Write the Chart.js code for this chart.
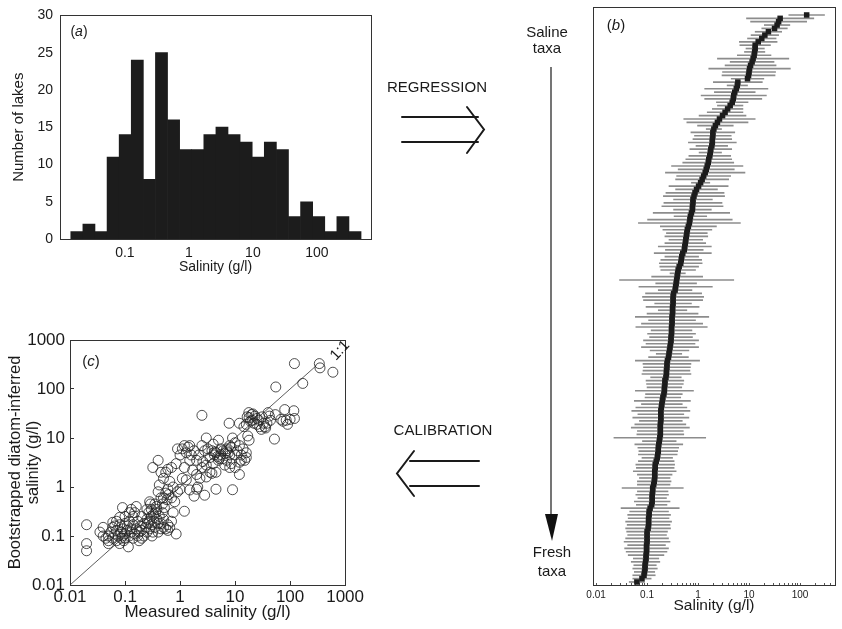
<!DOCTYPE html>
<html>
<head>
<meta charset="utf-8">
<script src="https://cdn.jsdelivr.net/npm/chart.js@4.4.1/dist/chart.umd.min.js"></script>
<style>
  body { margin: 0; background: #fff; width: 842px; height: 629px; position: relative; overflow: hidden;
         font-family: "Liberation Sans", Arial, sans-serif; color: #1a1a1a; }
  .box { position: absolute; }
  .txt { position: absolute; white-space: nowrap; transform: translateX(-50%); text-align: center; }
</style>
</head>
<body>
<div class="box" style="left:0;top:0;width:380px;height:280px"><canvas id="hist"></canvas></div>
<div class="box" style="left:560px;top:0;width:282px;height:629px"><canvas id="optima"></canvas></div>
<div class="box" style="left:0;top:320px;width:370px;height:309px"><canvas id="calib"></canvas></div>

<svg width="842" height="629" style="position:absolute;left:0;top:0">
  <g stroke="#1a1a1a" stroke-width="2" fill="none" stroke-linecap="round">
    <line x1="402" y1="117" x2="478" y2="117"/>
    <line x1="402" y1="142" x2="478" y2="142"/>
    <polyline points="467,107 484,129.5 467,153"/>
    <line x1="410" y1="461" x2="479" y2="461"/>
    <line x1="410" y1="486" x2="479" y2="486"/>
    <polyline points="414,451 397,473.5 414,496"/>
  </g>
  <line x1="551" y1="67" x2="551" y2="516" stroke="#1a1a1a" stroke-width="1.2"/>
  <polygon points="545,514 558,514 552,541" fill="#111"/>
</svg>

<div class="txt" style="left:437px;top:78px;font-size:15px">REGRESSION</div>
<div class="txt" style="left:443px;top:421px;font-size:15px">CALIBRATION</div>
<div class="txt" style="left:547px;top:24px;font-size:15px;line-height:16px">Saline<br>taxa</div>
<div class="txt" style="left:552px;top:542px;font-size:15px;line-height:19px">Fresh<br>taxa</div>
<div class="txt" style="left:79px;top:23px;font-size:14px">(<i>a</i>)</div>
<div class="txt" style="left:616px;top:16px;font-size:15px">(<i>b</i>)</div>
<div class="txt" style="left:91px;top:352px;font-size:15px">(<i>c</i>)</div>
<div class="txt" style="left:339px;top:341px;font-size:15px;transform:translateX(-50%) rotate(-47deg)">1:1</div>

<script>
// (a) histogram of lake salinity
const histCounts = [1, 2, 1, 11, 14, 24, 8, 25, 16, 12, 12, 14, 15, 14, 13, 11, 13, 12, 3, 5, 3, 1, 3, 1];
const histBinStart = 0.0143;   // lower edge of first bin, g/l
const histBinRatio = 1.545;    // each bin spans this factor

// (b) taxon optima and tolerances, top (saline) to bottom (fresh), log10 g/l
const taxonLogOptimum = [
  2.13, 1.61, 1.58, 1.55, 1.50, 1.38, 1.31, 1.25, 1.18, 1.12,
  1.12, 1.11, 1.10, 1.08, 1.06, 1.03, 1.01, 1.00, 0.99, 0.97,
  0.78, 0.77, 0.75, 0.72, 0.70, 0.69, 0.67, 0.63, 0.58, 0.53,
  0.48, 0.42, 0.38, 0.34, 0.31, 0.29, 0.29, 0.28, 0.28, 0.27,
  0.25, 0.24, 0.23, 0.21, 0.20, 0.18, 0.16, 0.14, 0.11, 0.08,
  0.05, 0.01, -0.03, -0.06, -0.08, -0.10, -0.10, -0.11, -0.11, -0.13,
  -0.15, -0.16, -0.17, -0.19, -0.21, -0.22, -0.23, -0.24, -0.25, -0.26,
  -0.27, -0.30, -0.32, -0.33, -0.34, -0.37, -0.39, -0.40, -0.41, -0.42,
  -0.43, -0.44, -0.45, -0.48, -0.49, -0.49, -0.49, -0.50, -0.50, -0.50,
  -0.51, -0.51, -0.51, -0.52, -0.52, -0.52, -0.53, -0.53, -0.54, -0.55,
  -0.56, -0.57, -0.58, -0.60, -0.61, -0.61, -0.62, -0.62, -0.63, -0.65,
  -0.65, -0.66, -0.66, -0.67, -0.69, -0.70, -0.71, -0.72, -0.73, -0.73,
  -0.73, -0.73, -0.74, -0.74, -0.74, -0.74, -0.75, -0.76, -0.77, -0.78,
  -0.78, -0.79, -0.80, -0.82, -0.84, -0.84, -0.85, -0.85, -0.85, -0.86,
  -0.87, -0.89, -0.89, -0.90, -0.90, -0.90, -0.91, -0.94, -0.96, -0.96,
  -0.97, -0.97, -0.97, -0.98, -1.00, -1.00, -1.00, -1.00, -1.01, -1.01,
  -1.01, -1.02, -1.02, -1.03, -1.04, -1.04, -1.05, -1.06, -1.10, -1.20
];
const taxonLogTolerance = [
  0.35, 0.66, 0.55, 0.25, 0.25, 0.26, 0.27, 0.28, 0.37, 0.30,
  0.18, 0.20, 0.33, 0.70, 0.43, 0.50, 0.80, 0.52, 0.52, 0.32,
  0.48, 0.20, 0.62, 0.40, 0.64, 0.56, 0.31, 0.25, 0.30, 0.35,
  0.46, 0.70, 0.60, 0.35, 0.15, 0.43, 0.36, 0.38, 0.47, 0.31,
  0.41, 0.22, 0.41, 0.45, 0.50, 0.70, 0.55, 0.78, 0.53, 0.52,
  0.18, 0.58, 0.41, 0.57, 0.60, 0.38, 0.57, 0.60, 0.37, 0.75,
  0.32, 0.83, 1.00, 0.55, 0.48, 0.40, 0.42, 0.33, 0.40, 0.52,
  0.37, 0.56, 0.33, 0.40, 0.42, 0.38, 0.34, 0.15, 0.50, 1.12,
  0.40, 0.72, 0.33, 0.55, 0.60, 0.58, 0.36, 0.52, 0.28, 0.50,
  0.72, 0.46, 0.60, 0.70, 0.40, 0.47, 0.42, 0.54, 0.48, 0.56,
  0.38, 0.25, 0.39, 0.63, 0.47, 0.46, 0.46, 0.48, 0.30, 0.37,
  0.36, 0.34, 0.57, 0.36, 0.35, 0.55, 0.40, 0.50, 0.57, 0.45,
  0.55, 0.42, 0.50, 0.57, 0.45, 0.46, 0.90, 0.33, 0.47, 0.40,
  0.38, 0.38, 0.30, 0.35, 0.38, 0.37, 0.42, 0.34, 0.30, 0.33,
  0.32, 0.60, 0.30, 0.32, 0.28, 0.35, 0.30, 0.57, 0.38, 0.42,
  0.40, 0.45, 0.42, 0.44, 0.40, 0.38, 0.42, 0.45, 0.37, 0.43,
  0.40, 0.35, 0.25, 0.28, 0.22, 0.24, 0.20, 0.22, 0.18, 0.15
];

// (c) measured vs bootstrapped diatom-inferred salinity, g/l
const measuredSalinity = [
  120, 340, 350, 600, 170, 55, 2.5,
  68, 74, 80, 85, 100, 117, 120, 90, 52, 42,
  44, 38, 35, 54, 31, 27, 25, 22, 20, 20.4,
  17.8, 16.6, 14.5, 18, 21, 23, 19, 33, 28, 30,
  36, 25, 16, 12, 7.8, 40,
  1.1, 1.2, 1.4, 1.3, 1.5, 1.6, 1.8, 2.0, 2.2, 2.5,
  2.8, 3.0, 3.2, 3.5, 3.8, 4.0, 4.2, 4.5, 4.8, 5.0,
  5.2, 5.5, 6.0, 6.5, 7.0, 7.5, 8.0, 8.5, 9.0, 10,
  11, 12, 13, 14, 15, 16, 17, 18, 16, 12,
  10, 8.5, 7, 6, 5, 4, 3.5, 3, 2.5, 2,
  1.7, 1.5, 1.2, 1.0, 0.9, 2.0, 2.1, 1.8, 2.8, 4.5,
  9, 12, 8, 6.5, 4.5, 3.8, 2.3, 1.3, 1.1, 1.0,
  1.5, 5.5, 7.0, 4.3, 8, 13, 10, 2.6, 3.0,
  0.32, 0.4, 0.42, 0.45, 0.5, 0.55, 0.6, 0.65, 0.7, 0.75,
  0.8, 0.85, 0.9, 0.5, 0.55, 0.6, 0.45, 0.4, 0.35, 0.38,
  0.48, 0.52, 0.58, 0.62, 0.7, 0.75, 0.7, 0.65, 0.6, 1.2,
  0.85, 0.6, 0.55, 0.5, 0.45, 0.28, 0.25,
  0.02, 0.02, 0.02, 0.04, 0.04, 0.05, 0.05, 0.05, 0.055, 0.06,
  0.06, 0.065, 0.07, 0.07, 0.075, 0.08, 0.08, 0.085, 0.09, 0.09,
  0.09, 0.095, 0.1, 0.1, 0.1, 0.11, 0.11, 0.115, 0.12, 0.12,
  0.125, 0.13, 0.13, 0.14, 0.14, 0.15, 0.15, 0.16, 0.17, 0.17,
  0.18, 0.19, 0.2, 0.2, 0.22, 0.22, 0.24, 0.25, 0.25, 0.27,
  0.28, 0.28, 0.3, 0.3, 0.3, 0.32, 0.33, 0.34, 0.35, 0.36,
  0.37, 0.38, 0.4, 0.4, 0.42, 0.45, 0.48, 0.5, 0.06, 0.07,
  0.08, 0.1, 0.12, 0.14, 0.16, 0.18, 0.2, 0.26, 0.29, 0.31,
  0.035, 0.045, 0.065, 0.085
];
const inferredSalinity = [
  330, 330, 270, 220, 130, 110, 29,
  24, 22, 38, 23, 24, 36, 25, 19, 9.5, 28,
  23, 20, 17, 30, 27, 23, 25, 20, 30, 23,
  33, 27, 17, 26, 31, 28, 22, 20, 17, 15,
  16, 19, 19, 20, 20, 33,
  6.0, 7.0, 6.5, 5.0, 7.0, 4.5, 5.5, 3.5, 4.5, 7.0,
  5.5, 10, 6.0, 4.0, 5.5, 7.5, 4.5, 5.0, 4.2, 9.0,
  3.8, 4.6, 5.5, 4.8, 6.0, 5.0, 4.5, 6.5, 10, 8.0,
  5.5, 7.0, 4.5, 6.0, 3.5, 5.0, 11, 9.0, 4.0, 3.2,
  2.5, 3.0, 3.5, 3.8, 3.5, 3.0, 2.0, 1.6, 2.5, 1.8,
  2.2, 3.5, 2.5, 4.5, 6.0, 0.9, 1.0, 0.65, 0.68, 0.9,
  0.88, 1.8, 2.5, 2.8, 2.0, 1.9, 1.5, 1.4, 1.5, 0.9,
  0.87, 6.0, 5.5, 5.2, 7, 3.5, 4.5, 3.3, 2.8,
  2.5, 3.5, 1.1, 2.0, 1.5, 2.0, 2.3, 1.3, 2.5, 1.0,
  0.5, 3.0, 0.8, 0.6, 0.75, 0.9, 0.6, 0.8, 0.45, 0.35,
  0.45, 0.38, 0.55, 0.7, 0.6, 0.3, 0.2, 0.15, 0.17, 0.32,
  0.11, 0.13, 0.14, 0.22, 0.18, 0.5, 0.35,
  0.17, 0.07, 0.05, 0.15, 0.1, 0.1, 0.08, 0.07, 0.12, 0.09,
  0.15, 0.11, 0.08, 0.13, 0.1, 0.07, 0.17, 0.12, 0.1, 0.14,
  0.38, 0.08, 0.11, 0.09, 0.25, 0.13, 0.16, 0.06, 0.1, 0.2,
  0.14, 0.35, 0.12, 0.09, 0.17, 0.11, 0.3, 0.14, 0.1, 0.2,
  0.12, 0.16, 0.13, 0.25, 0.18, 0.1, 0.15, 0.22, 0.12, 0.3,
  0.2, 0.14, 0.25, 0.35, 0.17, 0.12, 0.28, 0.2, 0.15, 0.3,
  0.4, 0.22, 0.12, 0.18, 0.25, 0.14, 0.3, 0.15, 0.19, 0.2,
  0.24, 0.18, 0.3, 0.25, 0.4, 0.08, 0.09, 0.18, 0.45, 0.1,
  0.12, 0.09, 0.16, 0.09
];
const oneToOne = [0.01, 300];

Chart.defaults.font.family = '"Liberation Sans", Arial, sans-serif';
Chart.defaults.color = '#1a1a1a';
Chart.defaults.animation = false;
Chart.defaults.plugins.legend.display = false;
Chart.defaults.plugins.tooltip.enabled = false;

// box round the plot area
const frame = {
  id: 'frame',
  afterDraw(chart) {
    const { ctx, chartArea: a } = chart;
    ctx.save();
    ctx.strokeStyle = '#333';
    ctx.lineWidth = 1;
    ctx.strokeRect(Math.round(a.left) + 0.5, Math.round(a.top) + 0.5, Math.round(a.width), Math.round(a.height));
    ctx.restore();
  }
};

const decadeTicks = (list) => (scale) => { scale.ticks = list.map(v => ({ value: v })); };
const label = v => String(v);

// (a)
new Chart(document.getElementById('hist'), {
  type: 'bar',
  data: {
    datasets: [{
      data: histCounts.map((c, k) => ({ x: histBinStart * Math.pow(histBinRatio, k + 0.5), y: c })),
      backgroundColor: '#1c1c1c',
      borderWidth: 0,
      barPercentage: 1,
      categoryPercentage: 1
    }]
  },
  options: {
    responsive: true,
    maintainAspectRatio: false,
    layout: { padding: { top: 11, right: 9, left: 0, bottom: 0 } },
    scales: {
      x: {
        type: 'logarithmic', min: 0.0097, max: 700, offset: false,
        grid: { display: false, drawTicks: false }, border: { display: false },
        afterBuildTicks: decadeTicks([0.1, 1, 10, 100]),
        ticks: { callback: label, font: { size: 14 }, padding: 6, autoSkip: false, maxRotation: 0 },
        title: { display: true, text: 'Salinity (g/l)', font: { size: 14 }, padding: { top: 0, bottom: 4 } },
        afterFit: s => { s.height = 41; }
      },
      y: {
        min: 0, max: 30,
        grid: { display: false, drawTicks: false }, border: { display: false },
        ticks: { stepSize: 5, font: { size: 14 }, padding: 7 },
        title: { display: true, text: 'Number of lakes', font: { size: 15 }, padding: { top: 10, bottom: 0 } },
        afterFit: s => { s.width = 60; }
      }
    }
  },
  plugins: [frame]
});

// (b)
const bMajor = [0.01, 0.1, 1, 10, 100];
const bTicks = [];
bMajor.forEach(d => { for (let m = 1; m <= 9; m++) if (m * d <= 485) bTicks.push(m * d); });

new Chart(document.getElementById('optima'), {
  type: 'bar',
  data: {
    datasets: [
      {
        type: 'scatter', indexAxis: 'y',
        data: taxonLogOptimum.map((o, i) => ({ x: Math.pow(10, o), y: i })),
        pointStyle: 'rect', pointRadius: 3.9,
        backgroundColor: '#1c1c1c', borderColor: '#1c1c1c', borderWidth: 0
      },
      {
        type: 'bar', indexAxis: 'y',
        data: taxonLogOptimum.map((o, i) => ({
          x: [Math.pow(10, o - taxonLogTolerance[i]), Math.pow(10, o + taxonLogTolerance[i])], y: i
        })),
        backgroundColor: '#8c8c8c', borderWidth: 0, barThickness: 1
      }
    ]
  },
  options: {
    indexAxis: 'y',
    responsive: true,
    maintainAspectRatio: false,
    layout: { padding: { top: 7, right: 7, left: 33, bottom: 0 } },
    scales: {
      x: {
        type: 'logarithmic', min: 0.0087, max: 485, offset: false,
        grid: { display: true, drawOnChartArea: false, drawTicks: true, tickLength: -2, color: '#555' },
        border: { display: false },
        afterBuildTicks: decadeTicks(bTicks),
        ticks: { callback: v => bMajor.includes(v) ? String(v) : '', font: { size: 10 }, padding: 6, autoSkip: false, maxRotation: 0 },
        title: { display: true, text: 'Salinity (g/l)', font: { size: 15.5 }, padding: { top: 0, bottom: 14 } },
        afterFit: s => { s.height = 44; }
      },
      y: { type: 'linear', reverse: true, min: -2.38, max: 169.9, offset: false, display: false }
    }
  },
  plugins: [frame]
});

// (c)
const cMajor = [0.01, 0.1, 1, 10, 100, 1000];
new Chart(document.getElementById('calib'), {
  type: 'scatter',
  data: {
    datasets: [
      {
        data: measuredSalinity.map((m, i) => ({ x: m, y: inferredSalinity[i] })),
        pointRadius: 5, pointBorderWidth: 0.8,
        borderColor: '#222', backgroundColor: 'rgba(0,0,0,0)'
      },
      {
        type: 'line',
        data: oneToOne.map(v => ({ x: v, y: v })),
        borderColor: '#333', borderWidth: 0.8, pointRadius: 0, fill: false
      }
    ]
  },
  options: {
    responsive: true,
    maintainAspectRatio: false,
    layout: { padding: { top: 20, right: 23, left: 0, bottom: 0 } },
    scales: {
      x: {
        type: 'logarithmic', min: 0.01, max: 1000,
        grid: { display: true, drawOnChartArea: false, drawTicks: true, tickLength: -4, color: '#333' },
        border: { display: false },
        afterBuildTicks: decadeTicks(cMajor),
        ticks: { callback: label, font: { size: 17 }, padding: 6, autoSkip: false, maxRotation: 0 },
        title: { display: true, text: 'Measured salinity (g/l)', font: { size: 17 }, padding: { top: 0, bottom: 6 } },
        afterFit: s => { s.height = 44; }
      },
      y: {
        type: 'logarithmic', min: 0.01, max: 1000,
        grid: { display: true, drawOnChartArea: false, drawTicks: true, tickLength: -4, color: '#333' },
        border: { display: false },
        afterBuildTicks: decadeTicks(cMajor),
        ticks: { callback: label, font: { size: 17 }, padding: 9, autoSkip: false },
        title: {
          display: true, text: ['Bootstrapped diatom-inferred', 'salinity (g/l)'],
          font: { size: 16.5, lineHeight: 1.1 }, padding: { top: 6, bottom: 0 }
        },
        afterFit: s => { s.width = 70; }
      }
    }
  },
  plugins: [frame]
});
</script>
</body>
</html>
